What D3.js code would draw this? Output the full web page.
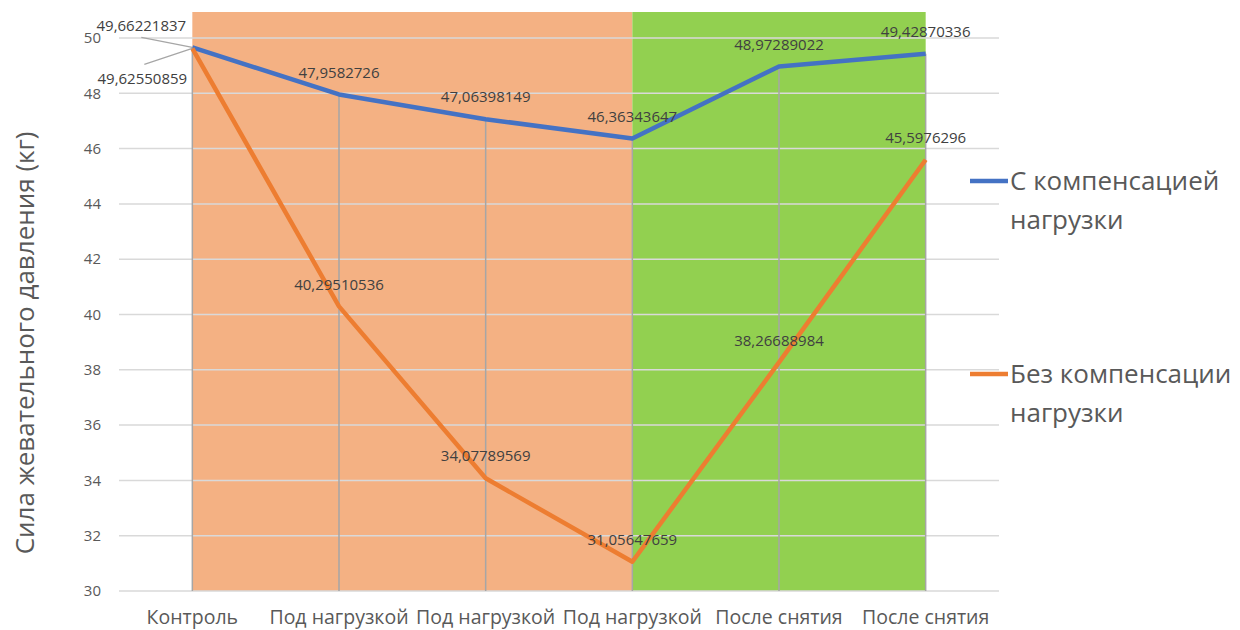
<!DOCTYPE html>
<html>
<head>
<meta charset="utf-8">
<script src="https://cdn.jsdelivr.net/npm/d3@7"></script>
<style>
  body { margin: 0; background: #fff; }
  svg { font-family: "Open Sans", sans-serif; }
</style>
</head>
<body>
<div id="viz"></div>
<script>
const width = 1240;
const height = 630;
const margin = {top: 12, right: 241, bottom: 39, left: 119};

// data
const categories = ['Контроль', 'Под нагрузкой', 'Под нагрузкой', 'Под нагрузкой', 'После снятия', 'После снятия'];
const withComp = [49.66221837, 47.9582726, 47.06398149, 46.36343647, 48.97289022, 49.42870336];
const withoutComp = [49.62550859, 40.29510536, 34.07789569, 31.05647659, 38.26688984, 45.5976296];
const yTicks = [30, 32, 34, 36, 38, 40, 42, 44, 46, 48, 50];
const phases = [
  { from: 0, to: 3, color: '#F4B183' },
  { from: 3, to: 5, color: '#92D050' }
];
const series = [
  { name: ['С компенсацией', 'нагрузки'], values: withComp, color: '#4472C4' },
  { name: ['Без компенсации', 'нагрузки'], values: withoutComp, color: '#ED7D31' }
];

const fmt = v => String(v).replace('.', ',');

const svg = d3.select('#viz')
  .append('svg')
    .attr('width', width)
    .attr('height', height);

const idx = d3.range(categories.length);
const scaleX = d3.scaleBand()
  .domain(idx)
  .range([margin.left, width - margin.right])
  .padding(0);
const cx = i => scaleX(i) + scaleX.bandwidth() / 2;

const scaleY = d3.scaleLinear()
  .domain([30, 50])
  .range([height - margin.bottom, 38]);

// phase backgrounds
svg.append('g')
  .selectAll('rect')
  .data(phases)
  .join('rect')
    .attr('x', d => cx(d.from))
    .attr('width', d => cx(d.to) - cx(d.from))
    .attr('y', margin.top)
    .attr('height', scaleY(30) - margin.top)
    .attr('fill', d => d.color);

// gridlines
svg.append('g')
  .selectAll('line')
  .data(yTicks)
  .join('line')
    .attr('x1', margin.left)
    .attr('x2', width - margin.right)
    .attr('y1', d => scaleY(d))
    .attr('y2', d => scaleY(d))
    .attr('stroke', '#d9d9d9')
    .attr('stroke-width', 1.5);

// drop lines
svg.append('g')
  .selectAll('line')
  .data(idx)
  .join('line')
    .attr('x1', cx)
    .attr('x2', cx)
    .attr('y1', i => scaleY(d3.max(series, s => s.values[i])))
    .attr('y2', scaleY(30))
    .attr('stroke', '#a6a6a6')
    .attr('stroke-width', 1.5);

// y axis labels
svg.append('g')
  .selectAll('text')
  .data(yTicks)
  .join('text')
    .attr('x', 101)
    .attr('y', d => scaleY(d))
    .attr('dy', '0.35em')
    .attr('text-anchor', 'end')
    .style('font-size', '15px')
    .attr('fill', '#595959')
    .text(d => d);

svg.append('text')
  .attr('transform', `translate(34, ${343}) rotate(-90)`)
  .attr('text-anchor', 'middle')
  .style('font-size', '26px')
  .attr('fill', '#595959')
  .text('Сила жевательного давления (кг)');

// x axis labels
svg.append('g')
  .selectAll('text')
  .data(idx)
  .join('text')
    .attr('x', cx)
    .attr('y', 624)
    .attr('text-anchor', 'middle')
    .style('font-size', '19.5px')
    .attr('fill', '#595959')
    .text(i => categories[i]);

// lines
const line = d3.line()
  .x((d, i) => cx(i))
  .y(d => scaleY(d));

svg.append('g')
  .selectAll('path')
  .data(series)
  .join('path')
    .attr('d', d => line(d.values))
    .attr('fill', 'none')
    .attr('stroke', d => d.color)
    .attr('stroke-width', 4.5)
    .attr('stroke-linejoin', 'round');

// data labels (first category uses leader lines)
const leader = [
  { dx: -51, dy: -22, lx: -51, ly: -10 },
  { dx: -50, dy: 30, lx: -48, ly: 16 }
];
series.forEach((s, si) => {
  const g = svg.append('g');
  s.values.forEach((v, i) => {
    let x = cx(i), y = scaleY(v) - 22;
    if (i === 0) {
      const L = leader[si];
      x = cx(i) + L.dx;
      y = scaleY(v) + L.dy;
      g.append('line')
        .attr('x1', cx(i)).attr('y1', scaleY(v))
        .attr('x2', cx(i) + L.lx).attr('y2', scaleY(v) + L.ly)
        .attr('stroke', '#a6a6a6')
        .attr('stroke-width', 1.2);
    }
    g.append('text')
      .attr('x', x)
      .attr('y', y)
      .attr('dy', '0.35em')
      .attr('text-anchor', 'middle')
      .style('font-size', '15px')
      .attr('fill', '#404040')
      .text(fmt(v));
  });
});

// legend
const legendY = [181, 374];
const legend = svg.append('g')
  .selectAll('g')
  .data(series)
  .join('g')
    .attr('transform', (d, i) => `translate(970, ${legendY[i]})`);
legend.append('line')
  .attr('x1', 0).attr('x2', 38)
  .attr('stroke', d => d.color)
  .attr('stroke-width', 4.5);
legend.append('text')
  .attr('x', 40)
  .style('font-size', '26px')
  .attr('fill', '#595959')
  .selectAll('tspan')
  .data(d => d.name)
  .join('tspan')
    .attr('x', 40)
    .attr('y', (d, i) => i * 39)
    .attr('dy', '0.35em')
    .text(d => d);
</script>
</body>
</html>
